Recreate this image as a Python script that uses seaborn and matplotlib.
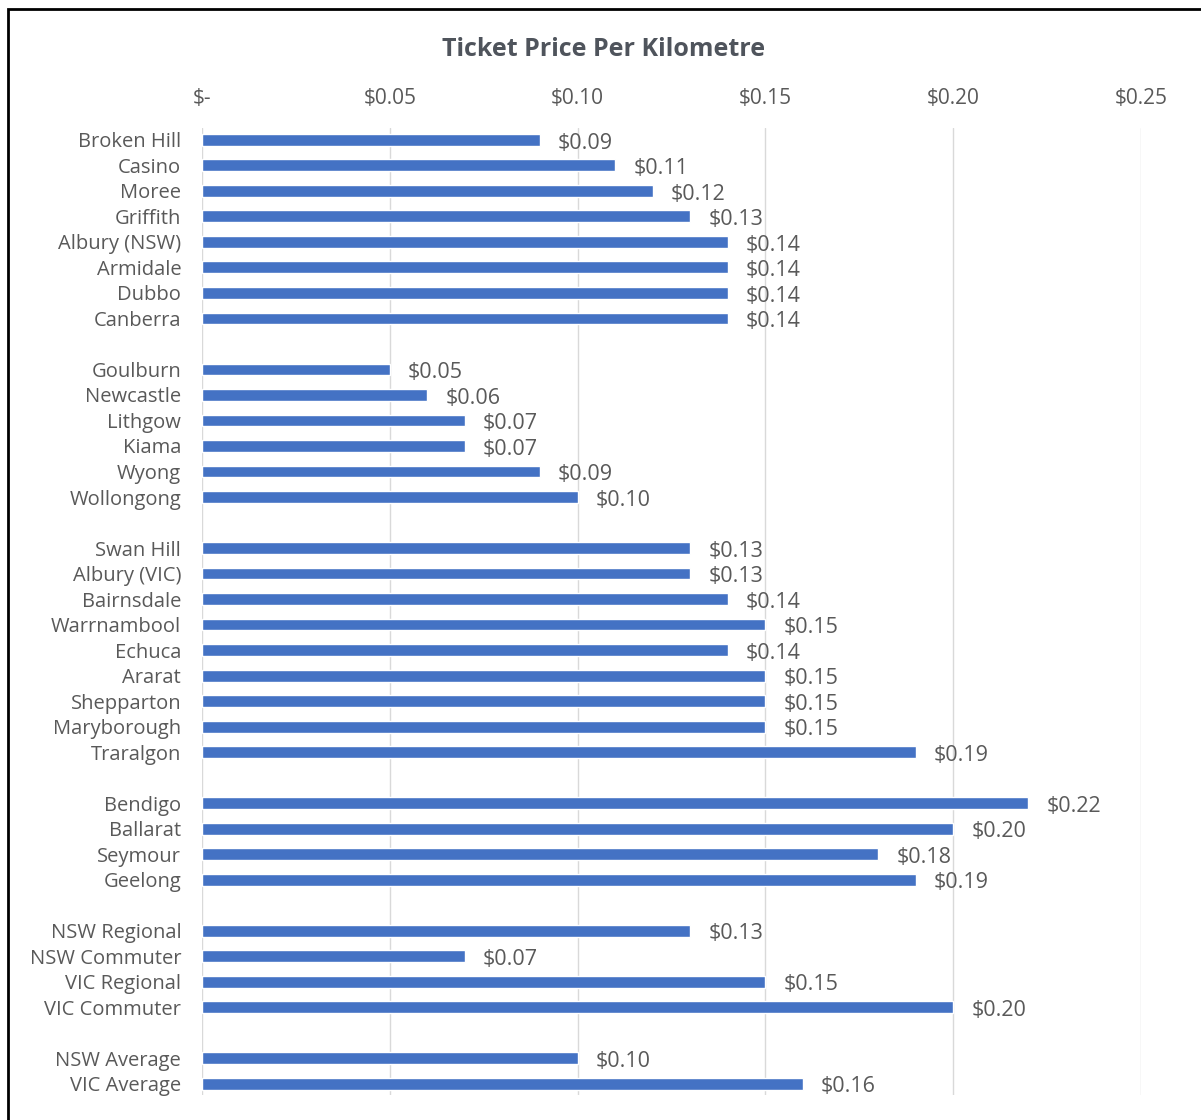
import matplotlib
matplotlib.use("Agg")
import matplotlib.pyplot as plt
import seaborn as sns
import pandas as pd
from matplotlib.patches import Rectangle

# ---- data ----
group1 = ["Broken Hill", "Casino", "Moree", "Griffith", "Albury (NSW)", "Armidale", "Dubbo", "Canberra"]
values1 = [0.09, 0.11, 0.12, 0.13, 0.14, 0.14, 0.14, 0.14]
group2 = ["Goulburn", "Newcastle", "Lithgow", "Kiama", "Wyong", "Wollongong"]
values2 = [0.05, 0.06, 0.07, 0.07, 0.09, 0.10]
group3 = ["Swan Hill", "Albury (VIC)", "Bairnsdale", "Warrnambool", "Echuca", "Ararat", "Shepparton", "Maryborough", "Traralgon"]
values3 = [0.13, 0.13, 0.14, 0.15, 0.14, 0.15, 0.15, 0.15, 0.19]
group4 = ["Bendigo", "Ballarat", "Seymour", "Geelong"]
values4 = [0.22, 0.20, 0.18, 0.19]
group5 = ["NSW Regional", "NSW Commuter", "VIC Regional", "VIC Commuter"]
values5 = [0.13, 0.07, 0.15, 0.20]
group6 = ["NSW Average", "VIC Average"]
values6 = [0.10, 0.16]
x_ticks = [0.0, 0.05, 0.10, 0.15, 0.20, 0.25]
x_tick_labels = ["$-", "$0.05", "$0.10", "$0.15", "$0.20", "$0.25"]
title = "Ticket Price Per Kilometre"

groups = [group1, group2, group3, group4, group5, group6]
vals = [values1, values2, values3, values4, values5, values6]

names, values, order = [], [], []
for gi, (g, v) in enumerate(zip(groups, vals)):
    names += g
    values += v
    order += g
    if gi < len(groups) - 1:
        order.append(" " * (gi + 1))
df = pd.DataFrame({"place": names, "price": values})

# ---- figure ----
sns.set_theme(style="white")
plt.rcParams["font.family"] = ["Open Sans", "DejaVu Sans"]
W, H = 1201, 1120
fig = plt.figure(figsize=(W / 100, H / 100), dpi=100)
left, right, top, bottom = 202, 1141, 128, 1095
ax = fig.add_axes([left / W, 1 - bottom / H, (right - left) / W, (bottom - top) / H])

blue = "#4472C4"
gray = "#595959"
sns.barplot(data=df, x="price", y="place", order=order, color=blue,
            width=0.47, orient="h", ax=ax, saturation=1, errorbar=None)

ax.set_xlim(0, 0.25)
ax.set_ylim(37.45, -0.47)
ax.set_xticks(x_ticks)
ax.set_xticklabels(x_tick_labels)
ax.xaxis.tick_top()
ax.tick_params(axis="x", length=0, pad=14, labelsize=15, labelcolor=gray)
ax.tick_params(axis="y", length=0, pad=15, labelsize=14.5, labelcolor=gray)
ax.set_xlabel("")
ax.set_ylabel("")
for s in ax.spines.values():
    s.set_visible(False)
ax.grid(axis="x", color="#D9D9D9", linewidth=1)
ax.set_axisbelow(True)

for c in ax.containers:
    labels = [f"${b.get_width():.2f}" for b in c]
    anns = ax.bar_label(c, labels=labels, padding=13, fontsize=15.5, color=gray)
    for a in anns:
        a.xyann = (13, -2.5)

fig.text(604 / W, 1 - 50 / H, title, ha="center", va="center",
         fontsize=18, fontweight="bold", color="#4F545C")

# frame around figure (top/left visible)
fig.patches.append(Rectangle((8 / W, -0.05), 1.1, 1 - 9 / H + 0.05,
                             transform=fig.transFigure, fill=False,
                             edgecolor="black", linewidth=2, figure=fig))

fig.savefig("out.png", dpi=100)
